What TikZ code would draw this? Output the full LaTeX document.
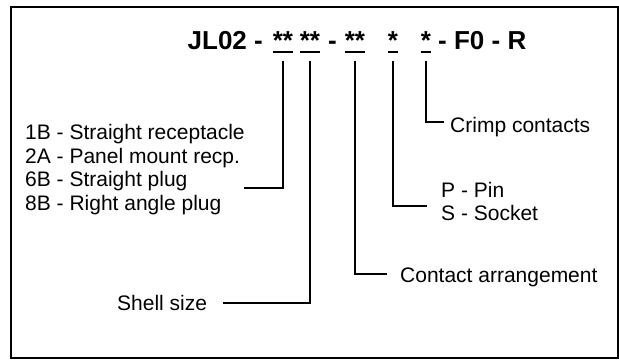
\documentclass[tikz,border=0pt]{standalone}
\usepackage{fontspec}
\setmainfont{Liberation Sans}
\usetikzlibrary{positioning}

\begin{document}
\begin{tikzpicture}[
    x=1pt, y=-1pt,
    code/.style={inner sep=0pt, anchor=base, font=\fontsize{26}{30}\selectfont\bfseries},
    lbl/.style={inner sep=0pt, anchor=base west, font=\fontsize{21}{23}\selectfont},
    bar/.style={line width=2.5pt},
    lead/.style={line width=1.6pt}
]
    \useasboundingbox (0,0) rectangle (619,360);
    \draw[line width=2pt] (11,7) rectangle (618,358);

    % Part number, fields underlined
    \node[code, anchor=base east] (pre) at (263,49) {JL02 -};
    \node[code] (ss) at (283,49) {**};
    \node[code] (sz) at (310,49) {**};
    \node[code] (dash) at (332.5,49) {-};
    \node[code] (ca) at (355,49) {**};
    \node[code] (pc) at (393,49) {*};
    \node[code] (cc) at (426,49) {*};
    \node[code, anchor=base west] (post) at (438,49) {- F0 - R};
    \foreach \f in {ss, sz, ca, pc, cc}
        \draw[bar] ([yshift=-3pt]\f.base west) -- ([yshift=-3pt]\f.base east);

    % Field descriptions
    \node[lbl] (t1) at (25,139.5) {1B - Straight receptacle};
    \node[lbl] (t2) at (25,163)   {2A - Panel mount recp.};
    \node[lbl] (t3) at (25,186.5) {6B - Straight plug};
    \node[lbl] (t4) at (25,210)   {8B - Right angle plug};
    \node[lbl] (shell) at (117,310) {Shell size};
    \node[lbl] (arr)   at (400,282) {Contact arrangement};
    \node[lbl] (pin)   at (441,197) {P - Pin};
    \node[lbl] (sock)  at (441,220) {S - Socket};
    \node[lbl] (crimp) at (450,132) {Crimp contacts};

    % Leader ends
    \coordinate (ss-end) at (244,188);
    \coordinate (sz-end) at (223,303);
    \coordinate (ca-end) at (387,274);
    \coordinate (pc-end) at (427,206);
    \coordinate (cc-end) at (444,122);

    % Leaders from each field down to its text
    \foreach \f in {ss, sz, ca, pc, cc}
        \draw[lead] ([yshift=-12pt]\f.base) |- (\f-end);
\end{tikzpicture}
\end{document}
